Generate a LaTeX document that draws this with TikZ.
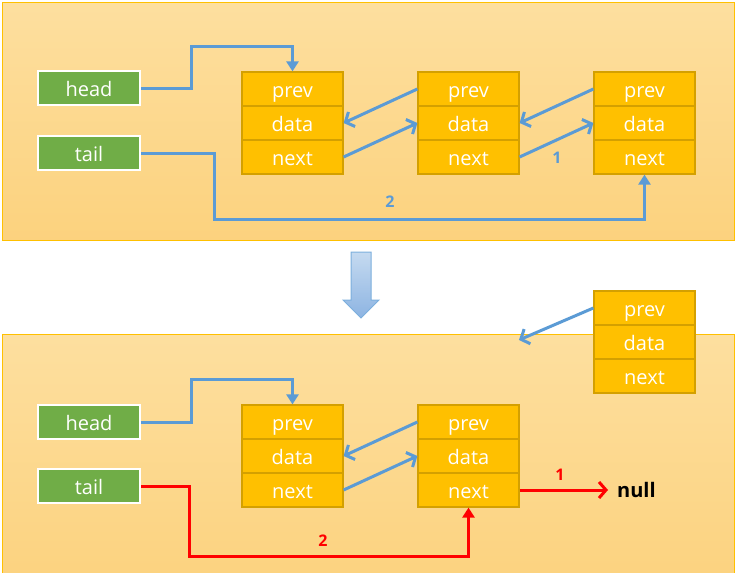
\documentclass[tikz,border=0pt]{standalone}
\usepackage{fontspec}
\setmainfont{Open Sans}
\usetikzlibrary{arrows.meta,calc}

\definecolor{gold}{HTML}{FFC000}
\definecolor{cellline}{HTML}{D4A000}
\definecolor{panetop}{HTML}{FDDF9F}
\definecolor{panebot}{HTML}{FCD27E}
\definecolor{leaf}{HTML}{70AD47}
\definecolor{sky}{HTML}{5B9BD5}
\definecolor{skytop}{HTML}{C5DAF0}
\definecolor{skybot}{HTML}{8DB4E2}

\begin{document}
\begin{tikzpicture}[
		x=1pt,
		y=-1pt,
		font=\fontsize{20}{24}\selectfont,
		panel/.style={draw=gold,line width=1pt,top color=panetop,bottom color=panebot},
		cell/.style={draw=cellline,line width=1.2pt,fill=gold,text=white,minimum width=101pt,minimum height=34pt,inner sep=0pt,text height=16pt,text depth=0pt},
		ptr/.style={draw=white,line width=2pt,fill=leaf,text=white,minimum width=102pt,minimum height=34pt,inner sep=0pt,text height=16pt,text depth=0pt},
		link/.style={draw=sky,line width=3pt,-{Straight Barb[length=7pt,width=16pt]}},
		hook/.style={draw=sky,line width=3pt,-{Triangle[length=10pt,width=12pt]}},
		cut/.style={draw=red,line width=3pt,-{Straight Barb[length=7pt,width=16pt]}},
		cuthook/.style={draw=red,line width=3pt,-{Triangle[length=10pt,width=12pt]}},
		num/.style={font=\fontsize{16}{19}\selectfont\bfseries,inner sep=1pt}
		]
		\useasboundingbox (0,0) rectangle (737,573);
		
		% =====================================================
		% Panels and the step arrow
		% =====================================================
		\path[panel] (2,2) rectangle (734,240);
		\path[panel] (2,334) rectangle (734,590);
		
		\path[draw=sky!80,line width=1pt,top color=skytop,bottom color=skybot]
		(351,252) -- (371,252) -- (371,300) -- (379,300) -- (361,318)
		-- (343,300) -- (351,300) -- cycle;
		
		% =====================================================
		% List nodes (prev / data / next)
		% =====================================================
		\foreach \n/\x/\y in {n1/292.5/89, n2/468.5/89, n3/644.5/89,
			n4/644.5/308, n5/292.5/422, n6/468.5/422}{
			\node[cell] (\n-prev) at (\x,\y) {prev};
			\node[cell] (\n-data) at (\x,\y+34) {data};
			\node[cell] (\n-next) at (\x,\y+68) {next};
		}
		
		% =====================================================
		% Before: three nodes
		% =====================================================
		\node[ptr] (head) at (89,88) {head};
		\node[ptr] (tail) at (89,153) {tail};
		
		\draw[hook] (head.east) -- ++(50,0) |- ($(n1-prev.north)+(0,-25)$) -- (n1-prev.north);
		
		\draw[link] (n2-prev.west) -- (n1-data.east);
		\draw[link] (n1-next.east) -- (n2-data.west);
		\draw[link] (n3-prev.west) -- (n2-data.east);
		\draw[link] (n2-next.east) -- (n3-data.west);
		\node[num,text=sky] (one) at (557,158) {1};
		
		\draw[hook] (tail.east) -- ++(73,0) |- ($(n3-next.south)+(0,45)$) -- (n3-next.south);
		\node[num,text=sky] (two) at (390,202) {2};
		
		% =====================================================
		% After: last node removed
		% =====================================================
		\coordinate (gap) at (519,340);
		\draw[link] (n4-prev.west) -- (gap);
		
		\node[ptr] (head2) at (89,422) {head};
		\node[ptr] (tail2) at (89,486) {tail};
		
		\draw[hook] (head2.east) -- ++(50,0) |- ($(n5-prev.north)+(0,-25)$) -- (n5-prev.north);
		
		\draw[link] (n6-prev.west) -- (n5-data.east);
		\draw[link] (n5-next.east) -- (n6-data.west);
		
		\node[font=\fontsize{20}{24}\selectfont\bfseries,anchor=west,inner sep=0pt] (null) at (617,490) {null};
		\draw[cut,shorten >=9pt] (n6-next.east) -- (null.west);
		\node[num,text=red] (one2) at (560,475) {1};
		
		\draw[cuthook] (tail2.east) -- ++(48,0) |- ($(n6-next.south)+(0,49)$) -- (n6-next.south);
		\node[num,text=red] (two2) at (323,541) {2};
		
	\end{tikzpicture}
\end{document}
